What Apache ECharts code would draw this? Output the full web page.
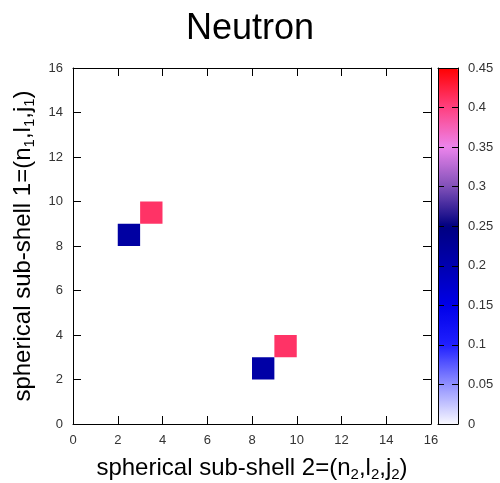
<!DOCTYPE html>
<html><head><meta charset="utf-8">
<script src="https://cdn.jsdelivr.net/npm/echarts@6/dist/echarts.min.js"></script>
<style>html,body{margin:0;padding:0;background:#fff}#c{width:500px;height:483px}</style>
</head><body><div id="c"></div>
<script>
var cellX = [2, 3, 8, 9];
var cellY = [8, 9, 2, 3];
var cellValues = [0.215, 0.41, 0.21, 0.41];
var axisTicks = [0, 2, 4, 6, 8, 10, 12, 14, 16];
var colorbarTicks = [0, 0.05, 0.1, 0.15, 0.2, 0.25, 0.3, 0.35, 0.4, 0.45];
var paletteColors = ['#f8f8ff', '#9090ff', '#2020ff', '#0000e8', '#0000b0', '#000080', '#8050b8', '#ec84ec', '#ff4080', '#ff0000'];

var data = cellX.map(function (x, i) { return [x, cellY[i], cellValues[i]]; });
var font = 'Liberation Sans, Arial, Helvetica, sans-serif';
var tickLbl = {color: '#333', fontSize: 13, fontFamily: font};
var line = {show: true, onZero: false, lineStyle: {color: '#000', width: 1}};
var tick = {show: true, inside: true, length: 8, lineStyle: {color: '#000', width: 1}};
var cbTick = {show: true, inside: true, length: 6, lineStyle: {color: '#000', width: 1}};
var subRich = {
  m: {fontSize: 24, fontFamily: font, color: '#000'},
  s: {fontSize: 15, fontFamily: font, color: '#000', verticalAlign: 'bottom', padding: [13, 0, 0, 0]}
};

var chart = echarts.init(document.getElementById('c'));
chart.setOption({
  animation: false,
  title: {text: 'Neutron', left: 'center', top: 6, textStyle: {fontSize: 36, fontWeight: 'normal', fontFamily: font, color: '#000'}},
  grid: [
    {left: 73, top: 68, width: 358, height: 356, containLabel: false, outerBoundsMode: 'none'},
    {left: 438, top: 68, width: 20, height: 356, containLabel: false, outerBoundsMode: 'none'}
  ],
  xAxis: [
    {gridIndex: 0, type: 'value', min: 0, max: 16, interval: 2, position: 'bottom',
     axisLine: line, axisTick: tick, splitLine: {show: false},
     axisLabel: Object.assign({margin: 10}, tickLbl),
     name: '{m|spherical sub-shell 2=(n}{s|2}{m|,l}{s|2}{m|,j}{s|2}{m|)}', nameLocation: 'middle', nameGap: 30,
     nameTextStyle: {rich: subRich}},
    {gridIndex: 0, type: 'value', min: 0, max: 16, interval: 2, position: 'top',
     axisLine: line, axisTick: tick, splitLine: {show: false}, axisLabel: {show: false}},
    {gridIndex: 1, type: 'value', min: 0, max: 1, position: 'bottom', z: 10,
     axisLine: line, axisTick: {show: false}, splitLine: {show: false}, axisLabel: {show: false}},
    {gridIndex: 1, type: 'value', min: 0, max: 1, position: 'top', z: 10,
     axisLine: line, axisTick: {show: false}, splitLine: {show: false}, axisLabel: {show: false}}
  ],
  yAxis: [
    {gridIndex: 0, type: 'value', min: 0, max: 16, interval: 2, position: 'left',
     axisLine: line, axisTick: tick, splitLine: {show: false},
     axisLabel: Object.assign({margin: 10}, tickLbl),
     name: '{m|spherical sub-shell 1=(n}{s|1}{m|,l}{s|1}{m|,j}{s|1}{m|)}', nameLocation: 'middle', nameGap: 33, nameRotate: 90,
     nameTextStyle: {rich: subRich}},
    {gridIndex: 0, type: 'value', min: 0, max: 16, interval: 2, position: 'right',
     axisLine: line, axisTick: tick, splitLine: {show: false}, axisLabel: {show: false}},
    {gridIndex: 1, type: 'value', min: 0, max: 0.45, interval: 0.05, position: 'left', z: 10,
     axisLine: line, axisTick: cbTick, splitLine: {show: false}, axisLabel: {show: false}},
    {gridIndex: 1, type: 'value', min: 0, max: 0.45, interval: 0.05, position: 'right', z: 10,
     axisLine: line, axisTick: cbTick, splitLine: {show: false},
     axisLabel: Object.assign({margin: 10, formatter: function (v) { return String(Math.round(v * 100) / 100); }}, tickLbl)}
  ],
  visualMap: {
    type: 'continuous', min: 0, max: 0.45, seriesIndex: 0, calculable: false, show: true,
    left: 438, top: 68, itemWidth: 20, itemHeight: 356, padding: 0, text: ['', ''], showLabel: false,
    inRange: {color: paletteColors}, z: 2
  },
  series: [{
    type: 'custom', xAxisIndex: 0, yAxisIndex: 0, data: data,
    encode: {x: 0, y: 1},
    renderItem: function (params, api) {
      var x = api.value(0), y = api.value(1);
      var p0 = api.coord([x, y + 1]);
      var p1 = api.coord([x + 1, y]);
      return {type: 'rect', shape: {x: p0[0], y: p0[1], width: p1[0] - p0[0], height: p1[1] - p0[1]},
        style: {fill: api.visual('color')}};
    }
  }]
});
</script></body></html>
